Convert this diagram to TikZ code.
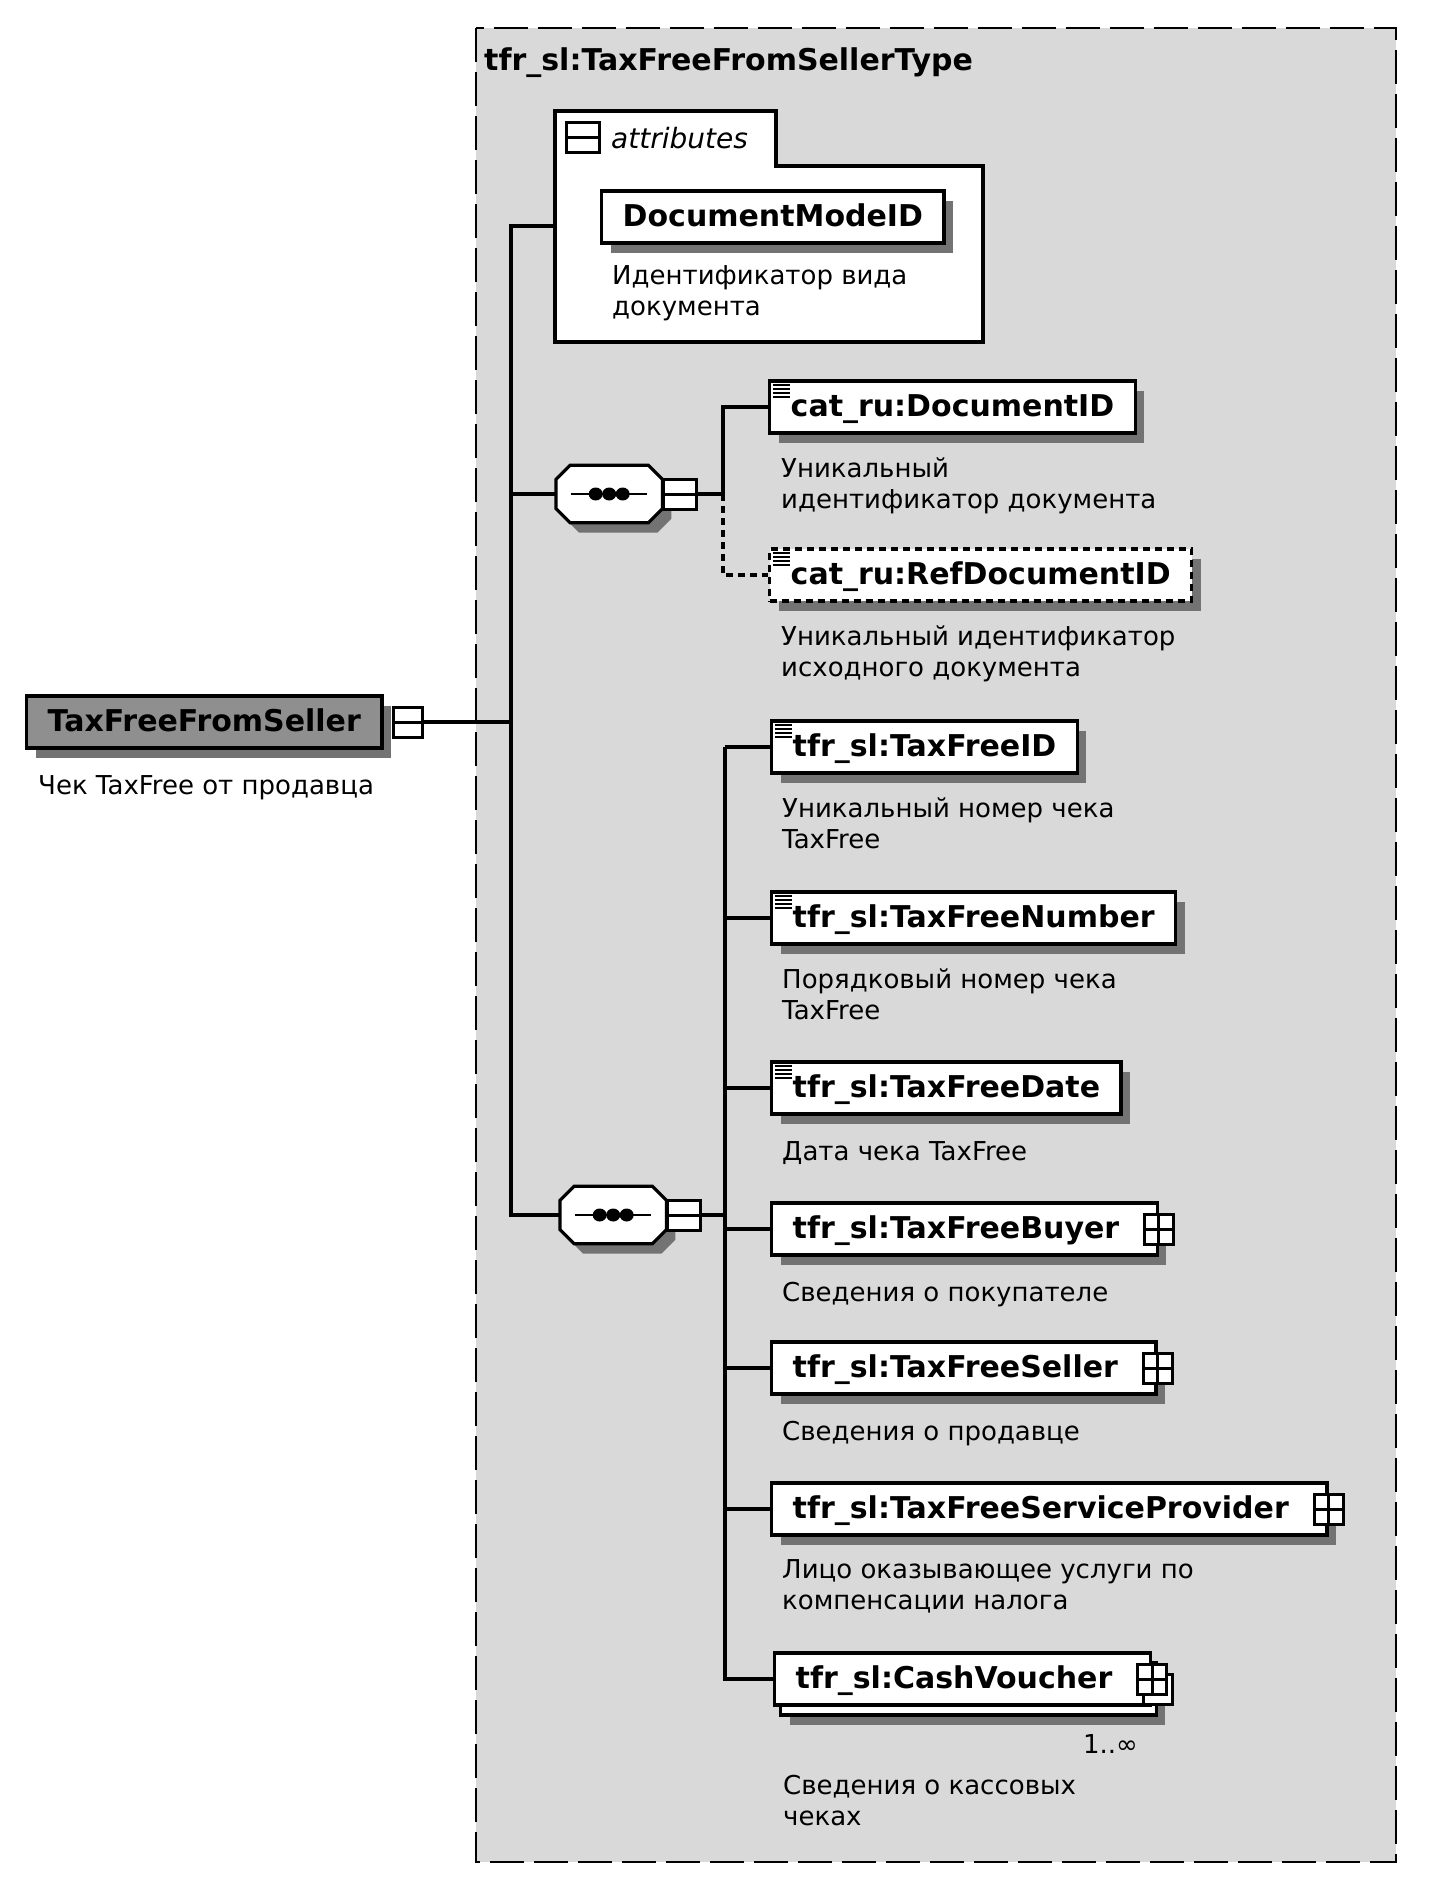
\documentclass[tikz,border=0pt]{standalone}
\usepackage{fontspec}
\setmainfont{DejaVu Sans}
\usepackage{tikz}
\usetikzlibrary{positioning,shadows}
\definecolor{bgclr}{gray}{0.85}
\definecolor{shadowclr}{gray}{0.45}
\definecolor{rootclr}{gray}{0.56}
\newcommand{\namesize}{\fontsize{30}{34}\selectfont\bfseries}
\newcommand{\descsize}{\fontsize{26}{31}\selectfont}
\tikzset{ %
  ,conn/.style={line width=3.2pt}
  ,optconn/.style={conn, dash pattern=on 7pt off 5pt}
  ,typeframe/.style={draw, fill=bgclr, line width=2.6pt, dash pattern=on 34pt off 10pt}
  ,typename/.style={inner sep=0, font=\namesize}
  ,attrframe/.style={draw, fill=white, line width=3.2pt}
  ,attrlbl/.style={inner sep=0, font=\fontsize{28}{32}\selectfont\itshape}
  ,shade/.style={drop shadow={shadow xshift=9pt, shadow yshift=-10pt, fill=shadowclr, opacity=1}}
  ,elembase/.style={draw, fill=white, line width=3.4pt, minimum height=52pt, inner xsep=21pt, inner ysep=0pt, text height=23pt, text depth=4pt, font=\namesize}
  ,elem/.style={elembase, shade}
  ,optelem/.style={elem, dash pattern=on 7pt off 5pt}
  ,rootelem/.style={elembase, fill=rootclr, shade}
  ,simple/.style={path picture={\foreach \k in {4,8,12,16} \draw[black, solid, line width=2.2pt] ([xshift=3pt, yshift=-\k pt]path picture bounding box.north west) -- ++(17pt,0);}}
  ,cplx/.style={execute at end node={\hspace*{17pt}}}
  ,multi/.style={elembase, cplx, drop shadow={shadow xshift=15pt, shadow yshift=-20pt, fill=shadowclr, opacity=1}, copy shadow={shadow xshift=6pt, shadow yshift=-10pt, draw=black, fill=white, line width=3.4pt}}
  ,tgl/.style={draw, fill=white, line width=3pt, minimum width=29pt, minimum height=30pt, inner sep=0}
  ,minustgl/.style={tgl, path picture={\draw[black, line width=3pt] (path picture bounding box.west) -- (path picture bounding box.east);}}
  ,plustgl/.style={tgl, path picture={\draw[black, line width=3pt] (path picture bounding box.west) -- (path picture bounding box.east) (path picture bounding box.north) -- (path picture bounding box.south);}}
  ,seqbox/.style={minimum width=106pt, minimum height=57pt, inner sep=0}
  ,seqline/.style={draw, fill=white, line width=3.2pt, shade}
  ,desc/.style={align=left, inner sep=0, font=\descsize, execute at begin node={\rule{0pt}{22pt}}}
  ,multlbl/.style={inner sep=0, font=\descsize, execute at begin node={\rule{0pt}{22pt}}}
}
\newcommand{\seqframe}[1]{%
  \draw[seqline] ([yshift=-14pt]#1.north west) -- ([xshift=14pt]#1.north west) -- ([xshift=-14pt]#1.north east) -- ([yshift=-14pt]#1.north east)
    -- ([yshift=14pt]#1.south east) -- ([xshift=-14pt]#1.south east) -- ([xshift=14pt]#1.south west) -- ([yshift=14pt]#1.south west) -- cycle;
  \draw[line width=2.8pt] ([xshift=-38pt]#1.center) -- ([xshift=38pt]#1.center);
  \foreach \d in {-13.5,0,13.5} \fill[black] ([xshift=\d pt]#1.center) circle[x radius=7pt, y radius=6.5pt];}
\begin{document}
\begin{tikzpicture}[x=1pt, y=-1pt]
  \useasboundingbox (0,0) rectangle (1435,1902);
  \draw[typeframe] (476,28) rectangle (1396,1862);
  \node[typename, anchor=base west] (ttl) at (484,71) {tfr\_sl:TaxFreeFromSellerType};

  \node[rootelem, anchor=west] (root) at (25,722) {TaxFreeFromSeller};
  \node[minustgl, right=8pt of root] (roottgl) {};
  \node[desc, below=23pt of root.south west, anchor=north west, xshift=13pt] (rootd) {Чек TaxFree от продавца};

  \draw[attrframe] (555,111) -- (776,111) -- (776,166) -- (983,166) -- (983,342) -- (555,342) -- cycle;
  \coordinate (attrin) at (555,226);
  \node[minustgl, minimum width=33pt] (attrtgl) at (583,138) {};
  \node[attrlbl, right=10pt of attrtgl] (attrl) {attributes};
  \node[elem, anchor=west] (docmode) at (600,217) {DocumentModeID};
  \node[desc, below=21pt of docmode.south west, anchor=north west, xshift=12pt] (docmoded) {Идентификатор вида\\документа};

  \node[seqbox, anchor=west] (seq1) at (556,494) {};
  \seqframe{seq1}
  \node[minustgl, minimum width=33pt, right=0pt of seq1] (seq1tgl) {};
  \node[seqbox, anchor=west] (seq2) at (560,1215) {};
  \seqframe{seq2}
  \node[minustgl, minimum width=33pt, right=0pt of seq2] (seq2tgl) {};

  \node[elem, simple, anchor=west] (docid) at (768,407) {cat\_ru:DocumentID};
  \node[desc, below=23pt of docid.south west, anchor=north west, xshift=13pt] (docidd) {Уникальный\\идентификатор документа};
  \node[optelem, simple, anchor=west] (refid) at (768,575) {cat\_ru:RefDocumentID};
  \node[desc, below=23pt of refid.south west, anchor=north west, xshift=13pt] (refidd) {Уникальный идентификатор\\исходного документа};

  \node[elem, simple, anchor=west] (tfid) at (770,747) {tfr\_sl:TaxFreeID};
  \node[desc, below=23pt of tfid.south west, anchor=north west, xshift=12pt] (tfidd) {Уникальный номер чека\\TaxFree};
  \node[elem, simple, anchor=west] (tfnum) at (770,918) {tfr\_sl:TaxFreeNumber};
  \node[desc, below=23pt of tfnum.south west, anchor=north west, xshift=12pt] (tfnumd) {Порядковый номер чека\\TaxFree};
  \node[elem, simple, anchor=west] (tfdate) at (770,1088) {tfr\_sl:TaxFreeDate};
  \node[desc, below=23pt of tfdate.south west, anchor=north west, xshift=12pt] (tfdated) {Дата чека TaxFree};
  \node[elem, cplx, anchor=west] (tfbuyer) at (770,1229) {tfr\_sl:TaxFreeBuyer};
  \node[plustgl] (tfbuyertgl) at (tfbuyer.east) {};
  \node[desc, below=23pt of tfbuyer.south west, anchor=north west, xshift=12pt] (tfbuyerd) {Сведения о покупателе};
  \node[elem, cplx, anchor=west] (tfseller) at (770,1368) {tfr\_sl:TaxFreeSeller};
  \node[plustgl] (tfsellertgl) at (tfseller.east) {};
  \node[desc, below=23pt of tfseller.south west, anchor=north west, xshift=12pt] (tfsellerd) {Сведения о продавце};
  \node[elem, cplx, anchor=west] (tfsp) at (770,1509) {tfr\_sl:TaxFreeServiceProvider};
  \node[plustgl] (tfsptgl) at (tfsp.east) {};
  \node[desc, below=23pt of tfsp.south west, anchor=north west, xshift=12pt] (tfspd) {Лицо оказывающее услуги по\\компенсации налога};
  \node[multi, anchor=west] (tfcash) at (773,1679) {tfr\_sl:CashVoucher};
  \node[plustgl, copy shadow={shadow xshift=6pt, shadow yshift=-10pt, draw=black, fill=white, line width=3pt}] (tfcashtgl) at (tfcash.east) {};
  \node[multlbl, below left=25pt and 14pt of tfcash.south east] (tfcashm) {1..∞};
  \node[desc, below=68pt of tfcash.south west, anchor=north west, xshift=10pt] (tfcashd) {Сведения о кассовых\\чеках};

  \coordinate (trunk) at (511,0);
  \coordinate (trunkA) at (723,0);
  \coordinate (trunkB) at (725,0);
  \draw[conn] (roottgl.east) -- (roottgl.east -| trunk);
  \draw[conn] (attrin) -| (trunk |- seq2.west) -- (seq2.west);
  \draw[conn] (trunk |- seq1.west) -- (seq1.west);
  \draw[conn] (seq1tgl.east) -- (seq1tgl.east -| trunkA) |- (docid.west);
  \draw[optconn] (seq1tgl.east -| trunkA) |- (refid.west);
  \draw[conn] (seq2tgl.east) -- (seq2tgl.east -| trunkB);
  \draw[conn] (trunkB |- tfid.west) -- (trunkB |- tfcash.west) -- (tfcash.west);
  \foreach \n in {tfid,tfnum,tfdate,tfbuyer,tfseller,tfsp}
    \draw[conn] (trunkB |- \n.west) -- (\n.west);
\end{tikzpicture}
\end{document}
